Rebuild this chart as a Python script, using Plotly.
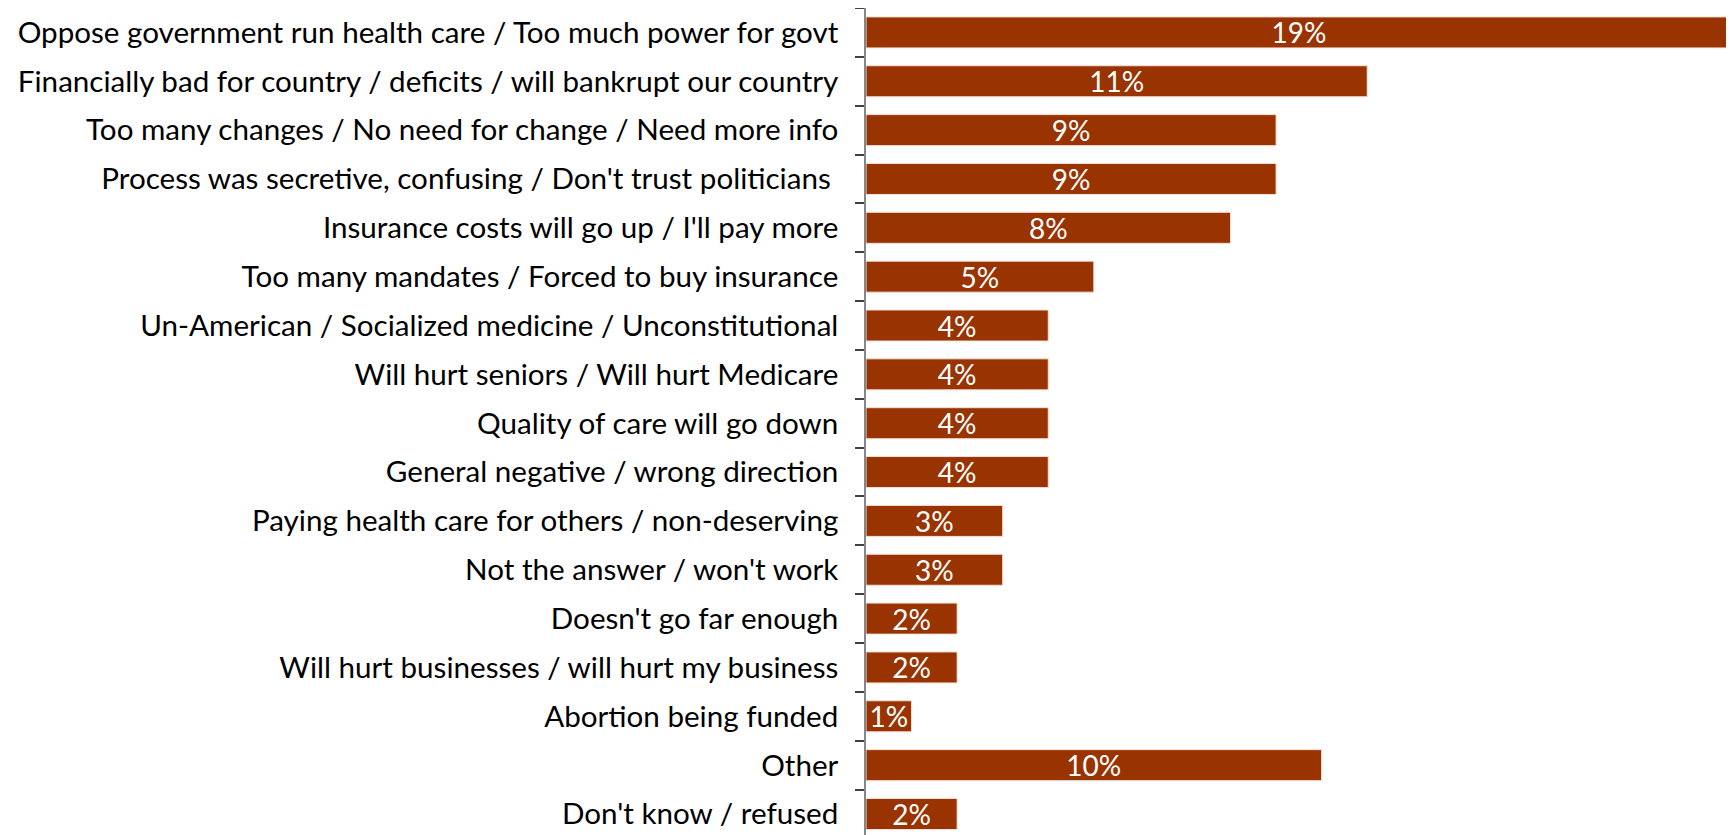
import plotly.graph_objects as go

categories = [
    "Oppose government run health care / Too much power for govt",
    "Financially bad for country / deficits / will bankrupt our country",
    "Too many changes / No need for change / Need more info",
    "Process was secretive, confusing / Don't trust politicians\u00a0",
    "Insurance costs will go up / I'll pay more",
    "Too many mandates / Forced to buy insurance",
    "Un-American / Socialized medicine / Unconstitutional",
    "Will hurt seniors / Will hurt Medicare",
    "Quality of care will go down",
    "General negative / wrong direction",
    "Paying health care for others / non-deserving",
    "Not the answer / won't work",
    "Doesn't go far enough",
    "Will hurt businesses / will hurt my business",
    "Abortion being funded",
    "Other",
    "Don't know / refused",
]
values = [19, 11, 9, 9, 8, 5, 4, 4, 4, 4, 3, 3, 2, 2, 1, 10, 2]
labels = [f"{v}%" for v in values]

FONT = "Lato"

fig = go.Figure(go.Bar(
    x=values,
    y=categories,
    orientation="h",
    marker=dict(color="#993300", line=dict(color="#f4e0d8", width=1)),
    width=0.635,
    text=labels,
    textposition="inside",
    insidetextanchor="middle",
    textangle=0,
    constraintext="none",
    textfont=dict(color="white", size=28, family=FONT),
    cliponaxis=False,
))

fig.update_layout(
    width=1726,
    height=827,
    margin=dict(l=858, r=0, t=0, b=0),
    plot_bgcolor="white",
    paper_bgcolor="white",
    showlegend=False,
    xaxis=dict(range=[0, 19.05], visible=False, showgrid=False, zeroline=False),
    yaxis=dict(
        type="category",
        categoryorder="array",
        categoryarray=categories,
        range=[16.43, -0.5],
        automargin=False,
        showline=True,
        linecolor="#868686",
        linewidth=1.5,
        ticks="outside",
        ticklen=9,
        tickcolor="#404040",
        tickwidth=1.5,
        tickson="boundaries",
        ticklabelstandoff=20,
        tickfont=dict(family=FONT, size=29.6, color="black"),
        showgrid=False,
        zeroline=False,
    ),
)

fig.write_html("out.html")
